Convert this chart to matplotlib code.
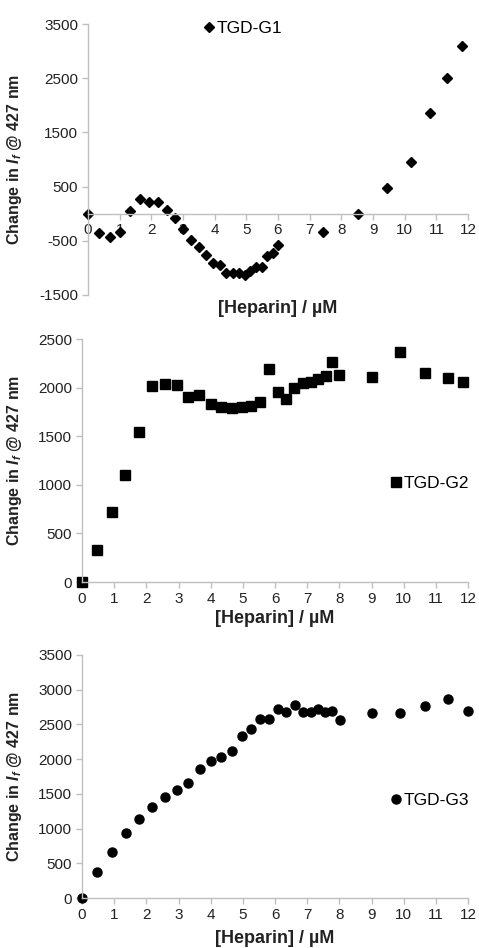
import numpy as np
import matplotlib.pyplot as plt

plt.rcParams['font.family'] = ['Liberation Sans', 'DejaVu Sans']
plt.rcParams['mathtext.fontset'] = 'custom'
plt.rcParams['mathtext.it'] = 'Liberation Sans:bold:italic'
plt.rcParams['mathtext.rm'] = 'Liberation Sans:bold'
plt.rcParams['axes.unicode_minus'] = False

# TGD-G1
x1 = [0, 0.35, 0.68, 1.02, 1.34, 1.63, 1.93, 2.22, 2.49, 2.74, 2.99, 3.25, 3.49,
      3.74, 3.95, 4.16, 4.37, 4.58, 4.77, 4.95, 5.13, 5.32, 5.49, 5.66, 5.84, 6.01,
      7.41, 8.54, 9.44, 10.19, 10.81, 11.35, 11.8]
y1 = [0, -350, -423, -337, 55, 276, 221, 215, 61, -80, -276, -484, -607,
      -766, -901, -944, -1097, -1097, -1097, -1122, -1055, -987, -981, -779, -730, -582,
      -337, 0, 472, 963, 1858, 2508, 3096]

# TGD-G2
x2 = [0, 0.46, 0.92, 1.35, 1.78, 2.18, 2.57, 2.96, 3.31, 3.65, 4.0, 4.33, 4.65,
      4.96, 5.24, 5.54, 5.82, 6.09, 6.35, 6.6, 6.86, 7.11, 7.35, 7.57, 7.77, 8.0,
      9.0, 9.89, 10.65, 11.37, 11.85]
y2 = [0, 332, 719, 1099, 1541, 2017, 2038, 2031, 1901, 1921, 1836, 1798, 1795,
      1805, 1812, 1853, 2192, 1955, 1887, 2000, 2051, 2058, 2086, 2116, 2267, 2130,
      2106, 2370, 2151, 2096, 2055]

# TGD-G3
x3 = [0, 0.47, 0.92, 1.36, 1.78, 2.19, 2.57, 2.96, 3.31, 3.66, 4.0, 4.33, 4.65,
      4.97, 5.26, 5.54, 5.82, 6.09, 6.35, 6.61, 6.86, 7.11, 7.33, 7.56, 7.78, 8.01,
      9.01, 9.9, 10.65, 11.38, 12.0]
y3 = [0, 370, 668, 937, 1138, 1311, 1455, 1556, 1662, 1859, 1969, 2027, 2118,
      2339, 2430, 2574, 2574, 2723, 2680, 2786, 2685, 2685, 2718, 2685, 2694, 2570,
      2671, 2671, 2767, 2868, 2690]

W, H = 479, 948
fig = plt.figure(figsize=(W / 100, H / 100), dpi=100)

gray = '#bfbfbf'
dark = '#222222'
ylabel = 'Change in $I_f$ @ 427 nm'
xlabel = '[Heparin] / \u00b5M'


def px_axes(left, right, top, bottom):
    return fig.add_axes([left / W, 1 - bottom / H, (right - left) / W, (bottom - top) / H])


def style(ax, yticks, left_px):
    for s in ['top', 'right']:
        ax.spines[s].set_visible(False)
    for s in ['left', 'bottom']:
        ax.spines[s].set_color(gray)
        ax.spines[s].set_linewidth(1.0)
    ax.set_xlim(0, 12)
    ax.set_xticks(range(0, 13))
    ax.set_yticks(yticks)
    ax.set_ylim(yticks[0], yticks[-1])
    ax.tick_params(colors=gray, labelcolor=dark, labelsize=11, length=4, width=1, pad=3)
    ax.set_ylabel(ylabel, fontsize=11.5, fontweight='bold', color=dark)
    ax.yaxis.set_label_coords((24 - left_px) / (468 - left_px), 0.5)


def legend(ax, ax_x, ax_y):
    ax.legend(frameon=False, loc='center left', bbox_to_anchor=(ax_x, ax_y),
              handlelength=0.6, handletextpad=0.15, borderpad=0, borderaxespad=0,
              fontsize=12.5)


# panel 1
ax1 = px_axes(88, 468, 24, 295)
ax1.plot(x1, y1, 'D', color='black', markersize=5.5, label='TGD-G1', clip_on=False)
style(ax1, [-1500, -500, 500, 1500, 2500, 3500], 88)
ax1.spines['bottom'].set_position(('data', 0))
ax1.set_xlabel(xlabel, fontsize=13, fontweight='bold', color=dark)
ax1.xaxis.set_label_coords(0.5, -0.02)
legend(ax1, 0.305, 0.985)

# panel 2
ax2 = px_axes(82, 468, 339, 582)
ax2.plot(x2, y2, 's', color='black', markersize=6.5, label='TGD-G2', clip_on=False)
style(ax2, [0, 500, 1000, 1500, 2000, 2500], 82)
ax2.set_xlabel(xlabel, fontsize=13, fontweight='bold', color=dark)
ax2.xaxis.set_label_coords(0.5, -0.115)
legend(ax2, 0.8, 0.404)

# panel 3
ax3 = px_axes(82, 468, 655, 898)
ax3.plot(x3, y3, 'o', color='black', markersize=6.5, label='TGD-G3', clip_on=False)
style(ax3, [0, 500, 1000, 1500, 2000, 2500, 3000, 3500], 82)
ax3.set_xlabel(xlabel, fontsize=13, fontweight='bold', color=dark)
ax3.xaxis.set_label_coords(0.5, -0.13)
legend(ax3, 0.8, 0.403)

fig.savefig('out.png', dpi=100)
